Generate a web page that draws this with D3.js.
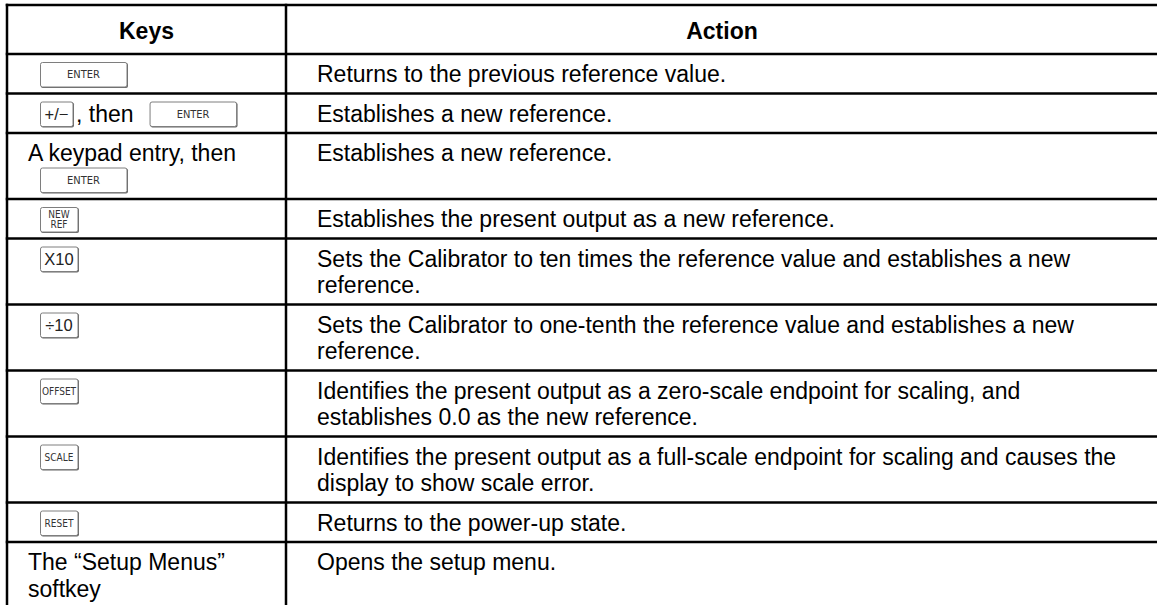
<!DOCTYPE html>
<html>
<head>
<meta charset="utf-8">
<script src="https://cdn.jsdelivr.net/npm/d3@7"></script>
<style>
  html, body { margin: 0; padding: 0; background: #fff; }
  svg { display: block; }
</style>
</head>
<body>
<svg id="chart" width="1157" height="605"></svg>
<script>
// ---- data ----
const headers = ["Keys", "Action"];

// key cells: lines of tokens; tokens wrapped in {} are keycaps ("|" = line break inside cap)
const keyCells = [
  [["{ENTER}"]],
  [["{+/−}", ", then", "{ENTER}"]],
  [["A keypad entry, then"], ["{ENTER}"]],
  [["{NEW|REF}"]],
  [["{X10}"]],
  [["{÷10}"]],
  [["{OFFSET}"]],
  [["{SCALE}"]],
  [["{RESET}"]],
  [["The “Setup Menus”"], ["softkey"]]
];

const actions = [
  ["Returns to the previous reference value."],
  ["Establishes a new reference."],
  ["Establishes a new reference."],
  ["Establishes the present output as a new reference."],
  ["Sets the Calibrator to ten times the reference value and establishes a new", "reference."],
  ["Sets the Calibrator to one-tenth the reference value and establishes a new", "reference."],
  ["Identifies the present output as a zero-scale endpoint for scaling, and", "establishes 0.0 as the new reference."],
  ["Identifies the present output as a full-scale endpoint for scaling and causes the", "display to show scale error."],
  ["Returns to the power-up state."],
  ["Opens the setup menu."]
];

// ---- layout ----
const W = 1157, H = 605;
const svg = d3.select("#chart");
const FONT = "'Liberation Sans', Arial, Helvetica, sans-serif";
const CAPFONT = "'Liberation Sans Narrow', 'DejaVu Sans Condensed', 'Liberation Sans', Arial, sans-serif";
const FS = 23;
const lineH = 26.5, pad = 6.5, headerH = 49, tableTop = 5;
const colX = d3.scaleOrdinal().domain(["left", "mid", "right"]).range([7, 286, 1160]);
const keyTextX = 28, capX = 40, actionX = 317;

const nLines = keyCells.map((k, i) => Math.max(k.length, actions[i].length));
const rowH = nLines.map(n => pad * 2 + n * lineH);
const tops = [tableTop + headerH].concat(Array.from(d3.cumsum(rowH)).map(v => tableTop + headerH + v));
const y = d3.scaleOrdinal().domain(d3.range(tops.length)).range(tops);

// ---- header ----
const hg = svg.append("g");
hg.append("text").attr("x", (colX("left") + colX("mid")) / 2).attr("y", tableTop + 34)
  .attr("text-anchor", "middle").attr("font-family", FONT).attr("font-size", FS)
  .attr("font-weight", "bold").text(headers[0]);
hg.append("text").attr("x", (colX("mid") + W) / 2 + 0.5).attr("y", tableTop + 34)
  .attr("text-anchor", "middle").attr("font-family", FONT).attr("font-size", FS)
  .attr("font-weight", "bold").text(headers[1]);

// ---- keycap drawing ----
function capWidth(label) {
  if (label === "ENTER") return 87;
  if (label === "+/−") return 33;
  return 38;
}
function drawCap(g, label, x, top) {
  const w = capWidth(label), h = 25;
  const cg = g.append("g").attr("transform", `translate(${x},${top})`);
  cg.append("rect").attr("x", 1).attr("y", 1).attr("width", w).attr("height", h)
    .attr("rx", 2).attr("fill", "#666");
  cg.append("rect").attr("x", 0.5).attr("y", 0.5).attr("width", w - 0.5).attr("height", h - 0.5)
    .attr("rx", 2).attr("fill", "#fff").attr("stroke", "#7e7e7e").attr("stroke-width", 1);
  const parts = label.split("|");
  const big = ["+/−", "X10", "÷10"].includes(label);
  if (big) {
    cg.append("text").attr("x", w / 2).attr("y", h / 2 + 6)
      .attr("text-anchor", "middle").attr("font-family", FONT).attr("font-size", 16.5)
      .attr("fill", "#222").text(label);
  } else if (parts.length === 2) {
    parts.forEach((p, i) => {
      cg.append("text").attr("x", w / 2).attr("y", 10.5 + i * 10)
        .attr("text-anchor", "middle").attr("font-family", CAPFONT).attr("font-size", 10)
        .attr("fill", "#333").text(p);
    });
  } else {
    const fs = label === "ENTER" ? 11 : 10;
    cg.append("text").attr("x", w / 2).attr("y", h / 2 + 3.8)
      .attr("text-anchor", "middle").attr("font-family", CAPFONT).attr("font-size", fs)
      .attr("fill", "#333").text(label);
  }
  return w;
}

// ---- rows ----
const rows = svg.append("g");
keyCells.forEach((cell, i) => {
  const top = y(i);
  const rg = rows.append("g");
  cell.forEach((line, li) => {
    const lineTop = top + li * lineH;
    const base = lineTop + 28;
    let x = null;
    line.forEach((tok) => {
      if (tok.startsWith("{")) {
        const label = tok.slice(1, -1);
        const cx = x === null ? capX : x + 16;
        const w = drawCap(rg, label, cx, lineTop + 8);
        x = cx + w;
      } else {
        const tx = x === null ? keyTextX : x + 3;
        const t = rg.append("text").attr("x", tx).attr("y", base)
          .attr("font-family", FONT).attr("font-size", FS).attr("fill", "#000").text(tok);
        x = tx + t.node().getComputedTextLength();
      }
    });
  });
  actions[i].forEach((txt, li) => {
    rg.append("text").attr("x", actionX).attr("y", top + 28 + li * lineH)
      .attr("font-family", FONT).attr("font-size", FS).attr("fill", "#000").text(txt);
  });
});

// ---- grid lines ----
const grid = svg.append("g").attr("stroke", "#000").attr("stroke-width", 2.5);
const hLines = [tableTop].concat(tops.slice(0, -1));
grid.selectAll("line.h").data(hLines).join("line").attr("class", "h")
  .attr("x1", colX("left") - 1.25).attr("x2", W).attr("y1", d => d).attr("y2", d => d);
grid.selectAll("line.v").data([colX("left"), colX("mid")]).join("line").attr("class", "v")
  .attr("x1", d => d).attr("x2", d => d).attr("y1", tableTop - 1.25).attr("y2", H);
</script>
</body>
</html>
